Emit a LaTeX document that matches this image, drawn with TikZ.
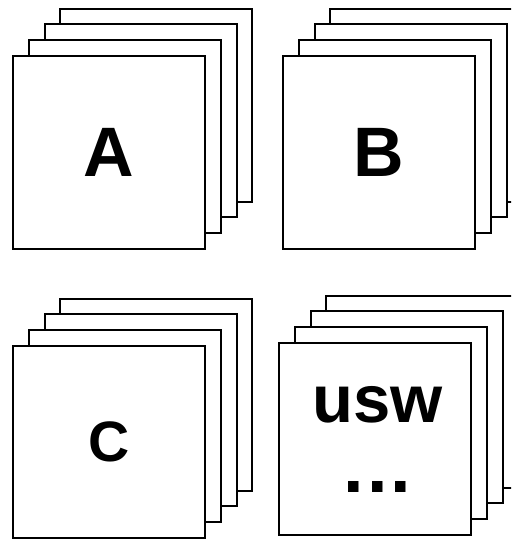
\documentclass[tikz,border=0pt]{standalone}
\usepackage{fontspec}
\setmainfont{Liberation Sans}
\usetikzlibrary{positioning}

\begin{document}
\begin{tikzpicture}[
        x=1pt, y=-1pt,
        card/.style={rectangle, draw=black, fill=white, line width=2pt,
          minimum width=192pt, minimum height=192pt, inner sep=0pt},
        letter/.style={font=\fontsize{70}{70}\selectfont\bfseries, inner sep=0pt}
      ]
        \useasboundingbox (0,0) rectangle (511,540);
        \clip (0,0) rectangle (511,540);

        % back cards of each stack
        \foreach \i/\d in {4/47,3/32,2/16} {
          \node[card] (cardA\i) at (109+\d,152.5-\d) {};
          \node[card] (cardB\i) at (379+\d,152.5-\d) {};
          \node[card] (cardC\i) at (109+\d,442-\d) {};
          \node[card] (cardD\i) at (374.5+\d,438.5-\d) {};
        }

        % front cards
        \node[card, font=\fontsize{70}{70}\selectfont\bfseries] (cardA1) at (109,152.5) {A};
        \node[card, font=\fontsize{70}{70}\selectfont\bfseries] (cardB1) at (379,152.5) {B};
        \node[card, font=\fontsize{57}{57}\selectfont\bfseries] (cardC1) at (109,442) {C};
        \node[card] (cardD1) at (374.5,438.5) {};

        \node[letter, font=\fontsize{67}{67}\selectfont\bfseries] (usw) at ([xshift=3pt, yshift=34pt]cardD1.center) {usw};
        \node[letter, font=\fontsize{74}{74}\selectfont\bfseries] (dots) at ([xshift=3pt, yshift=-48pt]cardD1.center) {.\kern3pt.\kern3pt.};
      \end{tikzpicture}
\end{document}
